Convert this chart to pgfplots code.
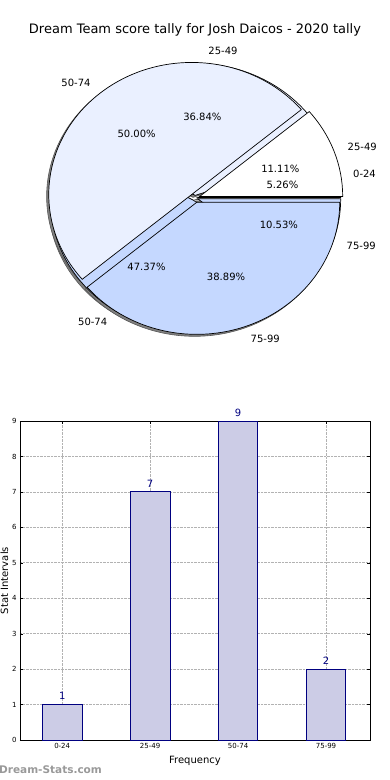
\documentclass[border=0pt]{standalone}
\usepackage{pgfplots}
\pgfplotsset{compat=1.18}
\usepackage{fontspec}
\setmainfont{DejaVu Sans}

\definecolor{lightB}{HTML}{EAF0FF}
\definecolor{midB}{HTML}{C5D8FF}
\definecolor{darkG}{HTML}{555555}
\definecolor{barfill}{HTML}{CCCCE6}
\definecolor{navyc}{HTML}{000080}

\newcommand\rx{143pt}
\newcommand\ry{132pt}
% #1 start count, #2 count, #3 total, #4 explode, #5 fill
\newcommand\pieslice[5]{%
  \filldraw[fill=#5, draw=black, line width=0.7pt, line join=miter]
   (axis cs:{#4*cos(360*(#1+#2/2)/#3)},{#4*sin(360*(#1+#2/2)/#3)})
   -- (axis cs:{#4*cos(360*(#1+#2/2)/#3)+cos(360*#1/#3)},{#4*sin(360*(#1+#2/2)/#3)+sin(360*#1/#3)})
   arc[start angle={360*#1/#3}, end angle={360*(#1+#2)/#3}, x radius=\rx, y radius=\ry] -- cycle;}
\newcommand\pieshadow[4]{%
  \filldraw[fill=black!50, draw=black!65, line width=0.6pt]
   (axis cs:{#4*cos(360*(#1+#2/2)/#3)-0.015},{#4*sin(360*(#1+#2/2)/#3)-0.015})
   -- (axis cs:{#4*cos(360*(#1+#2/2)/#3)+cos(360*#1/#3)-0.015},{#4*sin(360*(#1+#2/2)/#3)+sin(360*#1/#3)-0.015})
   arc[start angle={360*#1/#3}, end angle={360*(#1+#2)/#3}, x radius=\rx, y radius=\ry] -- cycle;}
% label: #1 start, #2 count, #3 total, #4 explode, #5 anchor, #6 text
\newcommand\pielabel[6]{%
  \node[anchor=#5, inner sep=0pt, font=\fontsize{10}{12}\selectfont]
   at (axis cs:{(#4+1.1)*cos(360*(#1+#2/2)/#3)},{(#4+1.1)*sin(360*(#1+#2/2)/#3)}) {#6};}
\newcommand\piepct[5]{%
  \node[inner sep=0pt, font=\fontsize{10}{12}\selectfont]
   at (axis cs:{(#4+0.6)*cos(360*(#1+#2/2)/#3)},{(#4+0.6)*sin(360*(#1+#2/2)/#3)}) {#5};}

\begin{document}
\begin{tikzpicture}
\useasboundingbox (0,0) rectangle (390pt,780pt);
\node[font=\fontsize{13}{15}\selectfont] at (195pt,750pt) {Dream Team score tally for Josh Daicos - 2020 tally};

\begin{axis}[at={(195pt,582pt)}, anchor=center, x=143pt, y=132pt,
  xmin=-1.4, xmax=1.4, ymin=-1.4, ymax=1.4, hide axis, clip=false]
% shadows (counts: pie A 1,7,9,2 of 19; pie B 2,9,7 of 18)
\pieshadow{0}{1}{19}{0.02}
\pieshadow{1}{7}{19}{0.02}
\pieshadow{8}{9}{19}{0.02}
\pieshadow{17}{2}{19}{0.02}
\pieshadow{0}{2}{18}{0.035}
\pieshadow{2}{9}{18}{0.035}
\pieshadow{11}{7}{18}{0.035}
% pie A
\pieslice{0}{1}{19}{0.02}{darkG}
\pieslice{1}{7}{19}{0.02}{lightB}
\pieslice{8}{9}{19}{0.02}{midB}
\pieslice{17}{2}{19}{0.02}{midB}
% pie B
\pieslice{0}{2}{18}{0.035}{white}
\pieslice{2}{9}{18}{0.035}{lightB}
\pieslice{11}{7}{18}{0.035}{midB}
% labels
\pielabel{0}{1}{19}{0.02}{west}{0-24}
\pielabel{1}{7}{19}{0.02}{west}{25-49}
\pielabel{8}{9}{19}{0.02}{east}{50-74}
\pielabel{17}{2}{19}{0.02}{west}{75-99}
\pielabel{0}{2}{18}{0.035}{west}{25-49}
\pielabel{2}{9}{18}{0.035}{east}{50-74}
\pielabel{11}{7}{18}{0.035}{west}{75-99}
\piepct{0}{1}{19}{0.02}{5.26\%}
\piepct{1}{7}{19}{0.02}{36.84\%}
\piepct{8}{9}{19}{0.02}{47.37\%}
\piepct{17}{2}{19}{0.02}{10.53\%}
\piepct{0}{2}{18}{0.035}{11.11\%}
\piepct{2}{9}{18}{0.035}{50.00\%}
\piepct{11}{7}{18}{0.035}{38.89\%}
\end{axis}

\begin{axis}[at={(20pt,40pt)}, anchor=south west, width=350pt, height=319pt, scale only axis,
  xmin=-0.48, xmax=3.5, ymin=0, ymax=9, ytick={0,1,...,9}, xtick={0,1,2,3},
  xticklabels={0-24,25-49,50-74,75-99},
  grid=major, grid style={densely dotted, black!30, line width=0.6pt},
  tick align=inside, major tick length=3pt, tick style={black},
  axis line style={black, line width=0.8pt},
  tick label style={font=\fontsize{7}{8}\selectfont},
  xlabel={Frequency}, ylabel={Stat Intervals},
  label style={font=\fontsize{10}{12}\selectfont},
  xlabel style={yshift=-1pt}, ylabel style={yshift=-3pt},
  /pgf/number format/assume math mode=true,
  clip=false]
\addplot[ybar, bar width=0.45, bar shift=0pt, fill=barfill, draw=navyc, line width=0.8pt,
  nodes near coords, nodes near coords style={text=navyc, font=\fontsize{10}{12}\selectfont, yshift=1pt}]
  coordinates {(0,1) (1,7) (2,9) (3,2)};
\end{axis}

\node[anchor=west, inner sep=0pt, text=black!40, font=\bfseries\fontsize{10.5}{12}\selectfont] at (-1pt,10pt) {Dream-Stats.com};
\end{tikzpicture}
\end{document}
